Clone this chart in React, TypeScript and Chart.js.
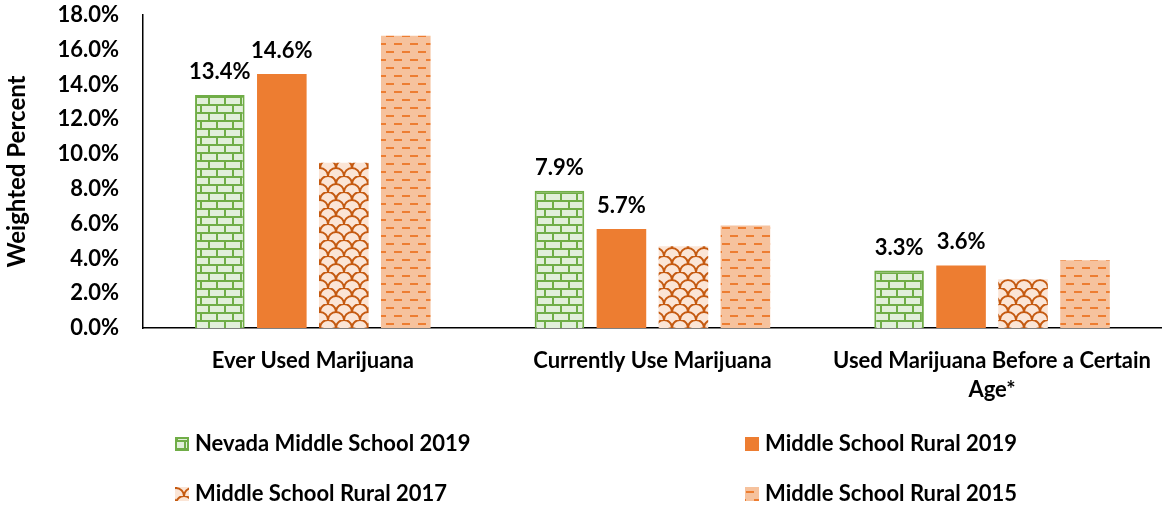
import React, { useEffect, useRef } from 'react';
import { Chart, registerables } from 'chart.js';
Chart.register(...registerables);

const categories: (string | string[])[] = ['Ever Used Marijuana', 'Currently Use Marijuana', ['Used Marijuana Before a Certain', 'Age*']];
const seriesNames = ['Nevada Middle School 2019', 'Middle School Rural 2019', 'Middle School Rural 2017', 'Middle School Rural 2015'];
const nevada2019 = [13.4, 7.9, 3.3];
const rural2019 = [14.6, 5.7, 3.6];
const rural2017 = [9.5, 4.7, 2.8];
const rural2015 = [16.8, 5.9, 3.9];
const labeledSeries = [0, 1];
const yMin = 0;
const yMax = 18;
const yStep = 2;

const FONT = 'Lato, "Open Sans", sans-serif';

function makeTile(w: number, h: number, draw: (c: CanvasRenderingContext2D) => void): CanvasPattern | string {
  const cv = document.createElement('canvas');
  cv.width = w;
  cv.height = h;
  const c = cv.getContext('2d')!;
  draw(c);
  const p = document.createElement('canvas').getContext('2d')!.createPattern(cv, 'repeat');
  return p || '#ccc';
}

function brickPattern() {
  return makeTile(16, 16, (c) => {
    c.fillStyle = '#E2EFDA';
    c.fillRect(0, 0, 16, 16);
    c.fillStyle = '#70AD47';
    c.fillRect(0, 0, 16, 2);
    c.fillRect(0, 8, 16, 2);
    c.fillRect(0, 0, 2, 8);
    c.fillRect(8, 8, 2, 8);
  });
}

function scalePattern() {
  return makeTile(16, 16, (c) => {
    c.fillStyle = '#FBE5D6';
    c.fillRect(0, 0, 16, 16);
    c.strokeStyle = '#C55A11';
    c.lineWidth = 2;
    const arcs = [
      [8, 8],
      [0, 16],
      [16, 16],
    ];
    arcs.forEach(([x, y]) => {
      c.beginPath();
      c.arc(x, y, 8, Math.PI, Math.PI * 2);
      c.stroke();
    });
  });
}

function dashPattern() {
  return makeTile(16, 16, (c) => {
    c.fillStyle = '#F6C29D';
    c.fillRect(0, 0, 16, 16);
    c.fillStyle = '#ED7D31';
    c.fillRect(2, 3, 8, 2);
    c.fillRect(10, 11, 8, 2);
    c.fillRect(-6, 11, 8, 2);
  });
}

export default function App() {
  const ref = useRef<HTMLCanvasElement>(null);
  useEffect(() => {
    document.body.style.margin = '0';
    const fills = [brickPattern(), '#ED7D31', scalePattern(), dashPattern()];
    const borders = ['#70AD47', '#ED7D31', 'rgba(0,0,0,0)', 'rgba(0,0,0,0)'];
    const borderWidths = [2, 0, 0, 0];
    const values = [nevada2019, rural2019, rural2017, rural2015];

    const labelPlugin = {
      id: 'valueLabels',
      afterDatasetsDraw(chart: any) {
        const ctx = chart.ctx;
        ctx.save();
        ctx.font = `bold 22px ${FONT}`;
        ctx.fillStyle = '#000';
        ctx.textAlign = 'center';
        ctx.textBaseline = 'middle';
        labeledSeries.forEach((di) => {
          const meta = chart.getDatasetMeta(di);
          meta.data.forEach((bar: any, i: number) => {
            const v = chart.data.datasets[di].data[i] as number;
            ctx.fillText(v.toFixed(1) + '%', bar.x, bar.y - 23);
          });
        });
        ctx.restore();
      },
    };

    const legendPlugin = {
      id: 'customLegend',
      afterDraw(chart: any) {
        const ctx = chart.ctx;
        const pos = [
          [175, 444],
          [745, 444],
          [175, 494],
          [745, 494],
        ];
        ctx.save();
        ctx.font = `bold 22px ${FONT}`;
        ctx.textBaseline = 'middle';
        ctx.textAlign = 'left';
        seriesNames.forEach((name, i) => {
          const [x, y] = pos[i];
          ctx.fillStyle = fills[i] as any;
          ctx.fillRect(x, y - 7, 14, 14);
          if (borderWidths[i] > 0) {
            ctx.strokeStyle = borders[i];
            ctx.lineWidth = 2;
            ctx.strokeRect(x + 1, y - 6, 12, 12);
          }
          ctx.fillStyle = '#000';
          ctx.fillText(name, x + 20, y);
        });
        ctx.restore();
      },
    };

    const chart = new Chart(ref.current!, {
      type: 'bar',
      data: {
        labels: categories as any,
        datasets: seriesNames.map((name, i) => ({
          label: name,
          data: values[i],
          backgroundColor: fills[i] as any,
          borderColor: borders[i],
          borderWidth: borderWidths[i],
          categoryPercentage: 0.73,
          barPercentage: 0.8,
        })),
      },
      options: {
        animation: false,
        responsive: false,
        maintainAspectRatio: false,
        layout: { padding: { top: 15, left: 0, right: 0, bottom: 0 } },
        plugins: {
          legend: { display: false },
          tooltip: { enabled: false },
        },
        scales: {
          x: {
            grid: { display: false },
            border: { display: true, color: '#000', width: 1.5 },
            ticks: {
              color: '#000',
              font: { family: FONT, size: 22, weight: 'bold', lineHeight: 1.3 },
              padding: 11,
              maxRotation: 0,
              autoSkip: false,
            },
            afterFit(scale: any) {
              scale.height = 178;
              scale.paddingTop = 0;
              scale.paddingBottom = 0;
            },
          },
          y: {
            min: yMin,
            max: yMax,
            grid: { display: false },
            border: { display: true, color: '#000', width: 1.5 },
            ticks: {
              stepSize: yStep,
              color: '#000',
              padding: 16,
              font: { family: FONT, size: 22, weight: 'bold' },
              callback: (v: any) => Number(v).toFixed(1) + '%',
            },
            title: {
              display: true,
              text: 'Weighted Percent',
              color: '#000',
              font: { family: FONT, size: 24, weight: 'bold' },
              padding: { top: 3, bottom: 0 },
            },
            afterFit(scale: any) {
              scale.width = 143;
              scale.paddingTop = 15;
              scale.paddingBottom = 0;
            },
          },
        },
      },
      plugins: [labelPlugin, legendPlugin],
    });
    return () => chart.destroy();
  }, []);
  return (
    <div style={{ width: 1162, height: 506 }}>
      <canvas ref={ref} width={1162} height={506} style={{ width: 1162, height: 506, display: 'block' }} />
    </div>
  );
}
